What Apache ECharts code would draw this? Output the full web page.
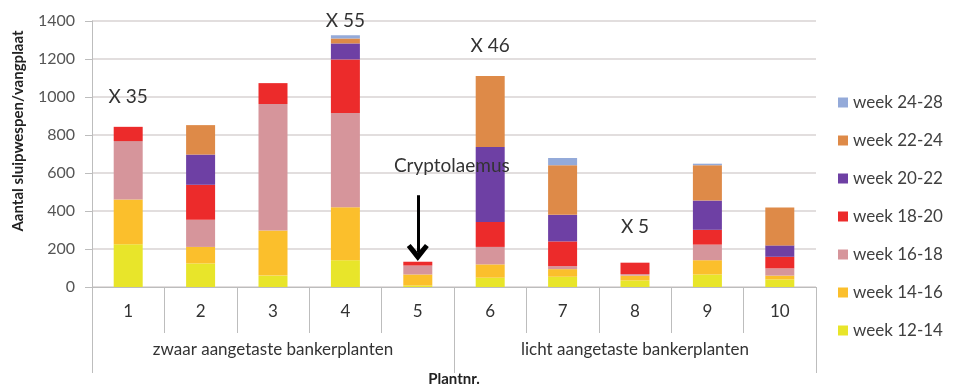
<!DOCTYPE html>
<html><head><meta charset="utf-8">
<script src="https://cdn.jsdelivr.net/npm/echarts@6/dist/echarts.min.js"></script>
<style>html,body{margin:0;padding:0;background:#fff}#c{width:960px;height:392px}</style>
</head><body><div id="c"></div>
<script>
var categories = ['1','2','3','4','5','6','7','8','9','10'];
var groups = ['zwaar aangetaste bankerplanten','licht aangetaste bankerplanten'];
var w12_14 = [225, 124, 60, 141, 8, 49, 54, 35, 66, 40];
var w14_16 = [235, 87, 238, 279, 58, 70, 40, 25, 75, 20];
var w16_18 = [308, 143, 665, 496, 47, 92, 16, 8, 82, 38];
var w18_20 = [75, 184, 110, 282, 20, 131, 130, 60, 78, 61];
var w20_22 = [0, 159, 0, 84, 0, 395, 140, 0, 154, 60];
var w22_24 = [0, 155, 0, 26, 0, 374, 261, 0, 186, 199];
var w24_28 = [0, 0, 0, 17, 0, 0, 38, 0, 8, 0];
var seriesNames = ['week 12-14','week 14-16','week 16-18','week 18-20','week 20-22','week 22-24','week 24-28'];
var seriesData = [w12_14, w14_16, w16_18, w18_20, w20_22, w22_24, w24_28];
var colors = ['#e8e52a','#fbbf2c','#d6959b','#ec2b2b','#6e40a4','#de8a48','#94aad9'];
var yTicks = {min:0, max:1400, interval:200};
var notes = [
  {name:'X 35', coord:['1', 1000]},
  {name:'X 55', coord:['4', 1400]},
  {name:'X 46', coord:['6', 1268]},
  {name:'X 5', coord:['8', 317]}
];
var noteCrypto = {name:'Cryptolaemus', coord:['5', 636]};
var arrowFrom = ['5', 483], arrowTo = ['5', 182];

var FONT = 'Lato';
var series = seriesNames.map(function(n, i){
  return {name:n, type:'bar', stack:'t', barWidth:29, data:seriesData[i],
    itemStyle:{color:colors[i]}, emphasis:{disabled:true}};
});
var last = series[series.length-1];
last.markPoint = {symbol:'circle', symbolSize:1, itemStyle:{color:'rgba(0,0,0,0)'},
  label:{show:true, position:'inside', formatter:'{b}', color:'#333', fontSize:19, fontFamily:FONT},
  data: notes.map(function(d){return {name:d.name, coord:d.coord};}).concat([
    {name:noteCrypto.name, coord:noteCrypto.coord, label:{offset:[34,0]}}])
};
last.markLine = {silent:true, symbolSize:[22,17],
  lineStyle:{color:'#000', width:3, type:'solid'},
  label:{show:false},
  data:[[{coord:arrowFrom, symbol:'none'},{coord:arrowTo, symbol:'path://M10,0 L20,13 L16.5,16 L10,8 L3.5,16 L0,13 Z'}]]
};

var chart = echarts.init(document.getElementById('c'), null, {renderer:'canvas'});
chart.setOption({
  animation:false,
  textStyle:{fontFamily:FONT},
  grid:{left:92, right:144, top:21, bottom:103, containLabel:false},
  legend:{orient:'vertical', left:833, top:89, itemWidth:10, itemHeight:10, itemGap:21,
    icon:'rect', data:seriesNames.slice().reverse(),
    textStyle:{color:'#404040', fontSize:17, fontFamily:FONT}},
  xAxis:[
    {type:'category', data:categories, position:'bottom',
      axisLine:{show:true, lineStyle:{color:'#bdbdbd'}},
      axisTick:{show:true, length:46, interval:0, lineStyle:{color:'#bdbdbd'}},
      axisLabel:{color:'#333', fontSize:17, margin:16, fontFamily:FONT}},
    {type:'category', data:groups, position:'bottom',
      axisLine:{show:false},
      axisTick:{show:true, length:86, interval:0, lineStyle:{color:'#bdbdbd'}},
      axisLabel:{color:'#333', fontSize:17, margin:54, fontFamily:FONT},
      name:'Plantnr.', nameLocation:'middle', nameGap:85,
      nameTextStyle:{fontWeight:'bold', color:'#222', fontSize:15, fontFamily:FONT}}
  ],
  yAxis:{type:'value', min:yTicks.min, max:yTicks.max, interval:yTicks.interval,
    axisLine:{show:true, lineStyle:{color:'#bdbdbd'}},
    axisTick:{show:true, length:7, lineStyle:{color:'#bdbdbd'}},
    axisLabel:{color:'#555', fontSize:16, margin:17, fontFamily:FONT, formatter:function(v){return String(v);}},
    splitLine:{lineStyle:{color:'#d9d3d3', width:1.5}}},
  graphic:[{type:'text', x:18, y:131, rotation:Math.PI/2,
    style:{text:'Aantal sluipwespen/vangplaat', font:'bold 15px Lato', fill:'#222',
      align:'center', verticalAlign:'middle'}}],
  series:series
});
</script></body></html>
